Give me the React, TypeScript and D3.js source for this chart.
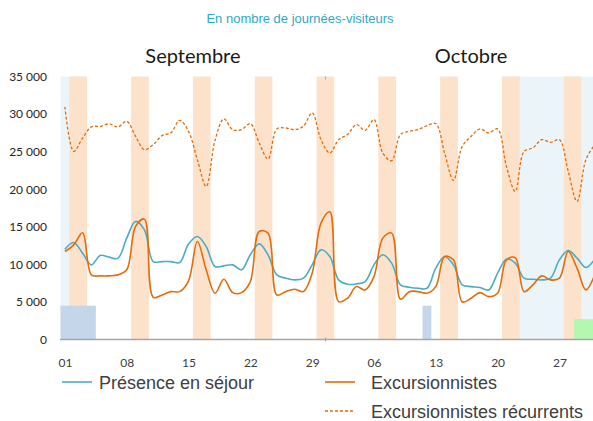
import React, { useEffect, useRef } from 'react';
import * as d3 from 'd3';

// Sept 1 -> Oct 31 2017, one value per day
const periodStart = '2017-09-01';
const periodEnd = '2017-11-01';

const presence = [
  12020, 12910, 11490, 9930, 11180, 10960, 10800, 13490, 15710, 14600,
  10370, 10370, 10370, 10240, 12700, 13710, 12370, 9710, 9800, 9930,
  9270, 11270, 12730, 11270, 8600, 8160, 7930, 8160, 9930, 11930,
  11040, 7930, 7360, 7400, 7710, 9930, 11270, 10160, 7270, 6960,
  6820, 6820, 9490, 11040, 9930, 7270, 7040, 6930, 6600, 8820,
  10690, 10160, 8160, 8020, 7930, 8160, 10600, 11840, 10820, 9580, 10690,
];

const excursionnistes = [
  11710, 12600, 14200, 8600, 8470, 8470, 8600, 9270, 15040, 16020,
  5620, 5930, 6370, 6370, 7800, 13040, 9270, 6160, 8020, 6240,
  6240, 7710, 14370, 14160, 5930, 6370, 6690, 6370, 8820, 15490,
  17000, 5040, 5490, 7040, 6600, 8370, 13490, 14160, 5360, 6370,
  6370, 6160, 7040, 11040, 10600, 5000, 5490, 6240, 5710, 6160,
  10600, 10900, 6370, 7270, 8470, 7930, 8160, 11710, 9490, 6600, 8600,
];

const recurrents = [
  30960, 25040, 26800, 28290, 28370, 28690, 28290, 29040, 27040, 25270,
  25930, 27130, 27500, 29170, 27700, 23930, 20370, 26500, 29360, 27930,
  27930, 28730, 26160, 24020, 28020, 28150, 27930, 28370, 30160, 26600,
  24820, 26600, 27270, 28600, 27840, 29270, 24820, 23800, 27270, 27700,
  27930, 28460, 28730, 24820, 21170, 25700, 27040, 28020, 27500, 28020,
  23040, 19710, 25040, 25490, 26600, 26240, 26600, 22370, 18370, 23930, 25900,
];

// week-ends (2 days each) and school holidays
const weekendStarts = ['2017-09-02', '2017-09-09', '2017-09-16', '2017-09-23', '2017-09-30',
  '2017-10-07', '2017-10-14', '2017-10-21', '2017-10-28'];
const holidays = [['2017-09-01', '2017-09-04'], ['2017-10-21', '2017-11-01']];

// small boxes at the bottom [from, to (excl.), value]
const blueBoxes: [string, string, number][] = [['2017-09-01', '2017-09-05', 4500], ['2017-10-12', '2017-10-13', 4500]];
const greenBoxes: [string, string, number][] = [['2017-10-29', '2017-11-01', 2700]];

const tickDays = ['2017-09-01', '2017-09-08', '2017-09-15', '2017-09-22', '2017-09-29',
  '2017-10-06', '2017-10-13', '2017-10-20', '2017-10-27'];
const yTicks = [0, 5000, 10000, 15000, 20000, 25000, 30000, 35000];
const months: [string, string][] = [['Septembre', '2017-09-16'], ['Octobre', '2017-10-17T12']];

const parse = (s: string) => new Date(s.length > 10 ? s + ':00:00' : s + 'T00:00:00');

const App = () => {
  const ref = useRef<SVGSVGElement>(null);

  useEffect(() => {
    const svg = d3.select(ref.current);
    svg.selectAll('*').remove();

    const width = 593, height = 421;
    const days = d3.timeDay.range(parse(periodStart), parse(periodEnd));

    const x = d3.scaleTime()
      .domain([parse(periodStart), parse(periodEnd)])
      .range([60.5, 60.5 + 61 * 8.83]);
    const mid = (d: Date) => x(d3.timeHour.offset(d, 12));

    const y = d3.scaleLinear().domain([0, 35000]).range([339.5, 76.5]);

    const fr = d3.formatLocale({ decimal: ',', thousands: ' ', grouping: [3], currency: ['', ''] });
    const fmt = fr.format(',.0f');

    const g = svg.append('g');

    // holidays
    g.selectAll('.holiday')
      .data(holidays)
      .enter().append('rect')
      .attr('x', d => x(parse(d[0])))
      .attr('width', d => x(parse(d[1])) - x(parse(d[0])))
      .attr('y', y(35000))
      .attr('height', y(0) - y(35000))
      .attr('fill', '#ebf5f9');

    // week-ends
    g.selectAll('.weekend')
      .data(weekendStarts)
      .enter().append('rect')
      .attr('x', d => x(parse(d)))
      .attr('width', d => x(d3.timeDay.offset(parse(d), 2)) - x(parse(d)))
      .attr('y', y(35000))
      .attr('height', y(0) - y(35000))
      .attr('fill', '#fce1cb');

    g.selectAll('.bluebox')
      .data(blueBoxes)
      .enter().append('rect')
      .attr('x', d => x(parse(d[0])))
      .attr('width', d => x(parse(d[1])) - x(parse(d[0])))
      .attr('y', d => y(d[2]))
      .attr('height', d => y(0) - y(d[2]))
      .attr('fill', '#c5d5ea');

    g.selectAll('.greenbox')
      .data(greenBoxes)
      .enter().append('rect')
      .attr('x', d => x(parse(d[0])) + 1.5)
      .attr('width', d => x(parse(d[1])) - x(parse(d[0])))
      .attr('y', d => y(d[2]))
      .attr('height', d => y(0) - y(d[2]))
      .attr('fill', '#b4f7ae');

    // y labels
    const yAxis = g.append('g')
      .attr('transform', 'translate(50,0)')
      .call(d3.axisLeft(y).tickValues(yTicks).tickSize(0).tickPadding(3).tickFormat(d => fmt(d as number)));
    yAxis.select('.domain').remove();
    yAxis.selectAll('text')
      .attr('fill', '#262626')
      .style('font-family', 'Lato, "Open Sans", sans-serif')
      .style('font-size', '12px');

    // x axis
    const xAxis = g.append('g')
      .attr('transform', 'translate(0,' + y(0) + ')')
      .call(d3.axisBottom(x)
        .tickValues(tickDays.map(d => d3.timeHour.offset(parse(d), 12)))
        .tickSize(0).tickSizeOuter(0).tickPadding(19)
        .tickFormat(d => d3.timeFormat('%d')(d as Date)));
    xAxis.select('.domain')
      .attr('stroke', '#a6a6a6')
      .attr('stroke-width', 1.6)
      .attr('d', 'M' + (x.range()[0] - 0.5) + ',0H' + width);
    xAxis.selectAll('text')
      .attr('fill', '#404040')
      .style('font-family', 'Lato, "Open Sans", sans-serif')
      .style('font-size', '12px');

    // month separator
    const sep = x(parse('2017-10-01'));
    g.append('line').attr('x1', sep).attr('x2', sep).attr('y1', y(35000)).attr('y2', y(35000) + 3)
      .attr('stroke', '#a6a6a6').attr('stroke-width', 1);
    g.append('line').attr('x1', sep).attr('x2', sep).attr('y1', y(0) - 2).attr('y2', y(0) + 2)
      .attr('stroke', '#a6a6a6').attr('stroke-width', 1);

    // lines
    const line = d3.line<number>()
      .x((d, i) => mid(days[i]))
      .y(d => y(d))
      .curve(d3.curveCatmullRom.alpha(0.5));

    g.append('path').datum(recurrents)
      .attr('d', line).attr('fill', 'none')
      .attr('stroke', '#e46c0a').attr('stroke-width', 1.3).attr('stroke-dasharray', '3,2');
    g.append('path').datum(presence)
      .attr('d', line).attr('fill', 'none')
      .attr('stroke', '#4bacc6').attr('stroke-width', 1.6);
    g.append('path').datum(excursionnistes)
      .attr('d', line).attr('fill', 'none')
      .attr('stroke', '#e46c0a').attr('stroke-width', 1.6);

    // title
    svg.append('text')
      .attr('x', 300).attr('y', 23)
      .attr('text-anchor', 'middle')
      .attr('fill', '#31a8c9')
      .style('font-family', '"Liberation Sans", Arial, sans-serif')
      .style('font-size', '13px')
      .text('En nombre de journées-visiteurs');

    svg.selectAll('.month')
      .data(months)
      .enter().append('text')
      .attr('x', d => x(parse(d[1])))
      .attr('y', 63)
      .attr('text-anchor', 'middle')
      .attr('fill', '#1a1a1a')
      .style('font-family', 'Lato, "Open Sans", sans-serif')
      .style('font-size', '20px')
      .text(d => d[0]);

    // legend
    const legend = [
      { label: 'Présence en séjour', color: '#4bacc6', dash: null, lx: 62, ly: 382 },
      { label: 'Excursionnistes', color: '#e46c0a', dash: null, lx: 325, ly: 382 },
      { label: 'Excursionnistes récurrents', color: '#e46c0a', dash: '3,2', lx: 325, ly: 411 },
    ];
    const lg = svg.selectAll('.legend').data(legend).enter().append('g');
    lg.append('line')
      .attr('x1', d => d.lx).attr('x2', d => d.lx + 30)
      .attr('y1', d => d.ly).attr('y2', d => d.ly)
      .attr('stroke', d => d.color)
      .attr('stroke-width', d => d.dash ? 1.3 : 1.6)
      .attr('stroke-dasharray', d => d.dash);
    lg.append('text')
      .attr('x', d => d.lx + (d.lx < 100 ? 37 : 46))
      .attr('y', d => d.ly + 6.5)
      .attr('fill', '#404040')
      .style('font-family', '"Liberation Sans", Arial, sans-serif')
      .style('font-size', '18px')
      .text(d => d.label);
  }, []);

  return (
    <svg ref={ref} width={593} height={421}
      style={{ position: 'absolute', left: 0, top: 0, display: 'block', background: '#fff' }} />
  );
};

export default App;
